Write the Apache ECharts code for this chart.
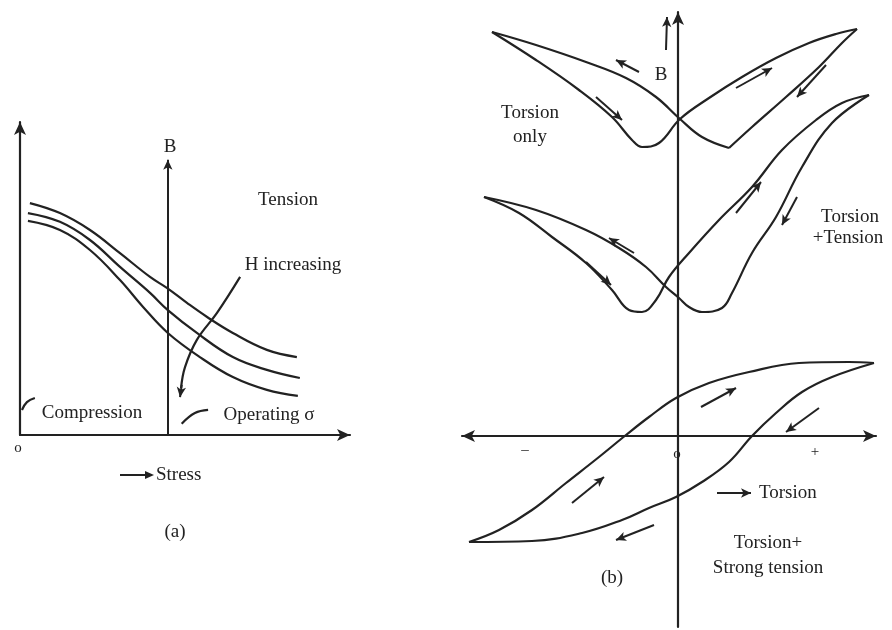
<!DOCTYPE html>
<html><head><meta charset="utf-8">
<script src="https://cdn.jsdelivr.net/npm/echarts@6/dist/echarts.min.js"></script>
<style>html,body{margin:0;padding:0;background:#fff}#c{width:892px;height:630px}</style>
</head><body><div id="c"></div>
<script>
// ---------- Panel (a): B versus stress (three field levels) ----------
const aCurveHigh = [[0.30,7.41],[1.21,7.09],[2.12,6.55],[3.03,5.81],[3.94,5.05],[4.45,4.70],[5.06,4.22],[5.67,3.77],[6.45,3.26],[7.48,2.72],[8.39,2.49]];
const aCurveMid  = [[0.24,7.09],[1.21,6.81],[2.12,6.23],[3.03,5.37],[3.94,4.54],[4.48,3.99],[5.36,3.26],[6.45,2.49],[7.48,2.08],[8.48,1.82]];
const aCurveLow  = [[0.24,6.84],[1.21,6.55],[2.12,5.91],[3.03,4.95],[3.73,4.09],[4.48,3.26],[5.45,2.49],[6.45,1.85],[7.48,1.44],[8.42,1.25]];
const aHArrowCurve = [[6.67,5.05],[5.97,3.90],[5.36,3.04],[5.00,2.17],[4.88,1.50]];
const aOperatingMark = [[5.70,0.80],[5.30,0.70],[4.90,0.36]];
const aCompressionMark = [[0.45,1.18],[0.21,1.05],[0.06,0.80]];
const aArrows = [
  [[4.48,0],[4.48,8.79]],
  [[4.90,1.60],[4.85,1.21]]
];

// ---------- Panel (b): B versus torsion ----------
const bOnlyA1 = [[-9.3,20.2],[-7.1,19.55],[-4.6,18.7],[-2.6,17.9],[-1.1,16.95],[0.1,15.85],[1.2,14.95],[2.55,14.4]];
const bOnlyA2 = [[2.55,14.4],[3.7,15.45],[5.4,16.95],[7.05,18.45],[8.2,19.65],[8.95,20.35]];
const bOnlyB  = [[-9.3,20.2],[-7.1,18.8],[-4.95,17.3],[-3.3,15.95],[-2.3,14.8],[-1.8,14.45],[-0.95,14.65],[0.1,15.85],[1.55,16.9],[3.2,17.95],[4.9,18.9],[6.55,19.65],[7.9,20.1],[8.95,20.35]];
const bTensC  = [[-9.7,11.95],[-7.1,11.3],[-4.6,10.3],[-2.95,9.4],[-1.6,8.45],[-0.6,7.45],[0.05,6.9],[0.55,6.45],[1.2,6.2],[2.2,6.4],[2.7,7.15],[3.7,9.15],[4.9,10.95],[6.2,13.45],[7.7,15.65],[9.55,17.05]];
const bTensD  = [[-9.7,11.95],[-7.95,11.15],[-6.3,9.95],[-4.6,8.65],[-3.3,7.3],[-2.45,6.3],[-1.8,6.2],[-1.1,6.8],[-0.45,7.95],[0.55,9.15],[2.05,10.8],[3.7,12.45],[5.2,14.3],[6.9,15.8],[8.2,16.65],[9.55,17.05]];
const bStrongUpper = [[-10.45,-5.3],[-8.95,-4.7],[-7.3,-3.7],[-5.6,-2.35],[-3.95,-1.05],[-2.6,0.05],[-1.45,0.95],[-0.1,1.9],[1.55,2.65],[3.55,3.2],[6.05,3.65],[8.55,3.7],[9.8,3.65]];
const bStrongLower = [[-10.45,-5.3],[-7.3,-5.25],[-4.8,-4.85],[-2.8,-4.2],[-1.45,-3.6],[-0.1,-3.05],[1.2,-2.3],[2.55,-1.3],[3.7,0],[4.9,1.15],[6.2,2.2],[7.7,2.95],[9.8,3.65]];
const bArrows = [
  [[-1.95,18.2],[-3.1,18.8]],
  [[-4.1,16.95],[-2.8,15.8]],
  [[2.9,17.4],[4.7,18.4]],
  [[7.4,18.55],[5.95,16.95]],
  [[-0.6,19.3],[-0.55,20.95]],
  [[-2.2,9.15],[-3.45,9.9]],
  [[-4.6,8.7],[-3.35,7.55]],
  [[2.9,11.15],[4.15,12.7]],
  [[5.95,11.95],[5.2,10.55]],
  [[1.15,1.45],[2.9,2.4]],
  [[7.05,1.4],[5.4,0.2]],
  [[-5.3,-3.35],[-3.7,-2.05]],
  [[-1.2,-4.45],[-3.1,-5.2]],
  [[1.95,-2.85],[3.65,-2.85]]
];

const INK = '#222222';
const chart = echarts.init(document.getElementById('c'), null, {renderer: 'canvas'});

function curve(data, xi) {
  return {type: 'line', xAxisIndex: xi, yAxisIndex: xi, data: data, smooth: 0.4,
    showSymbol: false, symbol: 'none', silent: true, animation: false,
    lineStyle: {color: INK, width: 2.2}};
}
function arrowSeries(list, xi) {
  return {type: 'line', xAxisIndex: xi, yAxisIndex: xi, data: [], silent: true, animation: false,
    symbol: 'none',
    markLine: {silent: true, animation: false, symbol: ['none', 'arrow'], symbolSize: [7, 10],
      label: {show: false}, lineStyle: {color: INK, width: 2, type: 'solid'},
      data: list.map(s => [{coord: s[0]}, {coord: s[1]}])}};
}
const axisCommon = {type: 'value', splitLine: {show: false}, axisTick: {show: false}, axisLabel: {show: false}};
const axisLineStyle = {color: INK, width: 2.2};
function txt(t, x, y, align, size) {
  return {type: 'text', x: x, y: y, silent: true,
    style: {text: t, font: (size || 19) + 'px "Liberation Serif", "Times New Roman", serif', fill: INK,
      textAlign: align || 'center', textVerticalAlign: 'middle'}};
}

chart.setOption({
  backgroundColor: '#ffffff',
  animation: false,
  grid: [
    {left: 20, top: 122, width: 330, height: 313},
    {left: 462, top: 12, width: 414, height: 615}
  ],
  xAxis: [
    Object.assign({}, axisCommon, {gridIndex: 0, min: 0, max: 10,
      axisLine: {show: true, onZero: true, symbol: ['none', 'arrow'], symbolSize: [9, 13], lineStyle: axisLineStyle}}),
    Object.assign({}, axisCommon, {gridIndex: 1, min: -10.8, max: 9.9,
      axisLine: {show: true, onZero: true, symbol: ['arrow', 'arrow'], symbolSize: [9, 13], lineStyle: axisLineStyle}})
  ],
  yAxis: [
    Object.assign({}, axisCommon, {gridIndex: 0, min: 0, max: 10,
      axisLine: {show: true, onZero: true, symbol: ['none', 'arrow'], symbolSize: [9, 13], lineStyle: axisLineStyle}}),
    Object.assign({}, axisCommon, {gridIndex: 1, min: -9.55, max: 21.2,
      axisLine: {show: true, onZero: true, symbol: ['none', 'arrow'], symbolSize: [9, 13], lineStyle: axisLineStyle}})
  ],
  series: [
    curve(aCurveHigh, 0), curve(aCurveMid, 0), curve(aCurveLow, 0),
    curve(aHArrowCurve, 0), curve(aOperatingMark, 0), curve(aCompressionMark, 0),
    arrowSeries(aArrows, 0),
    curve(bOnlyA1, 1), curve(bOnlyA2, 1), curve(bOnlyB, 1),
    curve(bTensC, 1), curve(bTensD, 1),
    curve(bStrongUpper, 1), curve(bStrongLower, 1),
    arrowSeries(bArrows, 1)
  ],
  graphic: [
    {type: 'line', silent: true, shape: {x1: 120, y1: 475, x2: 147, y2: 475}, style: {stroke: INK, lineWidth: 2}},
    {type: 'polygon', silent: true, shape: {points: [[145, 471], [154, 475], [145, 479]]}, style: {fill: INK}},
    txt('B', 170, 147), txt('Tension', 288, 200), txt('H increasing', 293, 265),
    txt('Compression', 92, 413), txt('Operating σ', 269, 415), txt('Stress', 156, 475, 'left'),
    txt('(a)', 175, 532), txt('o', 18, 448, 'center', 15),
    txt('B', 661, 75), txt('Torsion', 530, 113), txt('only', 530, 137),
    txt('Torsion', 850, 217), txt('+Tension', 848, 238),
    txt('–', 525, 450, 'center', 15), txt('o', 677, 454, 'center', 15), txt('+', 815, 452, 'center', 15),
    txt('Torsion', 759, 493, 'left'), txt('Torsion+', 768, 543), txt('Strong tension', 768, 568),
    txt('(b)', 612, 578)
  ]
});
</script></body></html>
